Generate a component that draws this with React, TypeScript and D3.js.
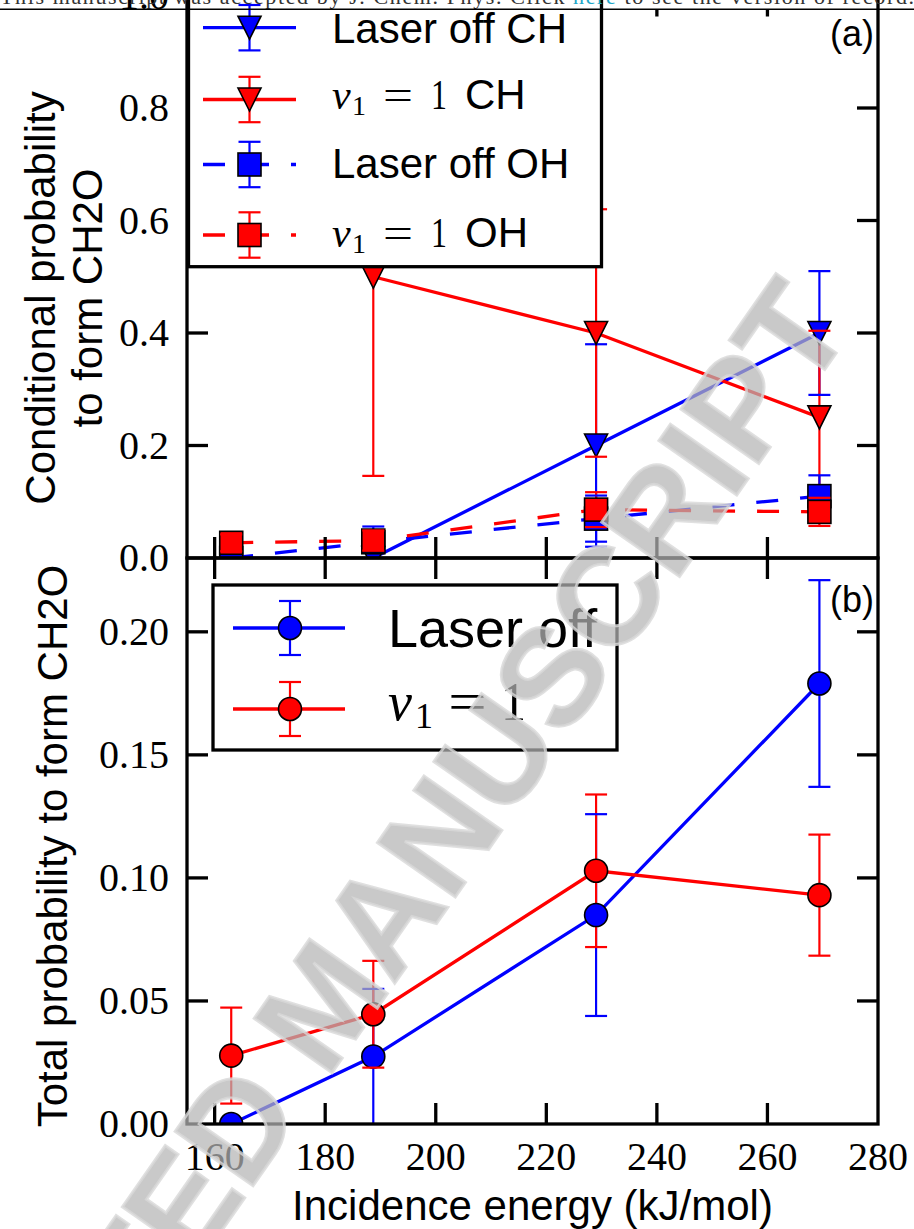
import React from "react";
import * as d3 from "d3";

// ---------- data ----------
const energies = [163, 188.7, 229, 269.4];

// panel (a): conditional probability to form CH2O
const laserOffCH: (number | null)[] = [null, 0.0, 0.2, 0.4];
const laserOffCHErr: (number | null)[] = [null, 0.0, 0.18, 0.11];
const nu1CH: (number | null)[] = [null, 0.5, 0.4, 0.25];
const nu1CHErr: (number | null)[] = [null, 0.354, 0.22, 0.154];
const laserOffOH: (number | null)[] = [0.0, 0.028, 0.07, 0.11];
const laserOffOHErr: (number | null)[] = [0.0, 0.028, 0.041, 0.037];
const nu1OH: (number | null)[] = [0.027, 0.031, 0.086, 0.082];
const nu1OHErr: (number | null)[] = [0.015, 0.018, 0.031, 0.025];

// panel (b): total probability to form CH2O
const laserOffTotal = [0.0, 0.0274, 0.0849, 0.179];
const laserOffTotalErr = [0.0, 0.0275, 0.041, 0.042];
const nu1Total = [0.0278, 0.0446, 0.1029, 0.093];
const nu1TotalErr = [0.0195, 0.0217, 0.031, 0.0246];

const xTicks = [160, 180, 200, 220, 240, 260, 280];
const yTicksA = [0, 0.2, 0.4, 0.6, 0.8, 1.0];
const yTicksB = [0, 0.05, 0.1, 0.15, 0.2];

const BLUE = "#0000ff";
const RED = "#ff0000";
const SANS = "'Liberation Sans', Arial, sans-serif";
const SERIF = "'Liberation Serif', 'Times New Roman', serif";

// ---------- layout ----------
const L = 187, R = 878;
const A_TOP = -4.5, A_BOT = 558, B_BOT = 1124;

const x = d3.scaleLinear().domain([155, 280]).range([L, R]);
const yA = d3.scaleLinear().domain([0, 1]).range([A_BOT, A_TOP]);
const yB = d3.scaleLinear().domain([0, 0.23]).range([B_BOT, A_BOT]);

type Series = {
  vals: (number | null)[];
  errs: (number | null)[];
  color: string;
  marker: "tri" | "sq" | "circ";
  dashed: boolean;
};

const MS = 23;

function Marker({ kind, cx, cy, color }: { kind: string; cx: number; cy: number; color: string }) {
  const h = MS / 2;
  if (kind === "tri")
    return <path d={`M${cx},${cy + h} L${cx - h},${cy - h} L${cx + h},${cy - h} Z`} fill={color} stroke="#000" strokeWidth={1.6} strokeLinejoin="miter" />;
  if (kind === "sq")
    return <rect x={cx - h} y={cy - h} width={MS} height={MS} fill={color} stroke="#000" strokeWidth={1.6} />;
  return <circle cx={cx} cy={cy} r={h} fill={color} stroke="#000" strokeWidth={1.6} />;
}

function ErrBars({ s, y }: { s: Series; y: d3.ScaleLinear<number, number> }) {
  return (
    <g>
      {s.vals.map((v, i) => {
        const e = s.errs[i];
        if (v == null || e == null || e === 0) return null;
        const cx = x(energies[i]);
        return <line key={i} x1={cx} x2={cx} y1={y(v - e)} y2={y(v + e)} stroke={s.color} strokeWidth={2.2} />;
      })}
    </g>
  );
}

function SeriesBody({ s, y }: { s: Series; y: d3.ScaleLinear<number, number> }) {
  const pts = s.vals.map((v, i) => ({ v, e: energies[i] })).filter((p) => p.v != null) as { v: number; e: number }[];
  const line = d3.line<{ v: number; e: number }>().x((p) => x(p.e)).y((p) => y(p.v));
  return (
    <g>
      <path d={line(pts) || ""} fill="none" stroke={s.color} strokeWidth={3.3} strokeDasharray={s.dashed ? "22,22" : undefined} />
      {pts.map((p, i) => (
        <Marker key={i} kind={s.marker} cx={x(p.e)} cy={y(p.v)} color={s.color} />
      ))}
      {s.vals.map((v, i) => {
        const e = s.errs[i];
        if (v == null || e == null || e === 0) return null;
        const cx = x(energies[i]);
        return (
          <g key={"c" + i}>
            <line x1={cx - 11} x2={cx + 11} y1={y(v - e)} y2={y(v - e)} stroke={s.color} strokeWidth={2.2} />
            <line x1={cx - 11} x2={cx + 11} y1={y(v + e)} y2={y(v + e)} stroke={s.color} strokeWidth={2.2} />
          </g>
        );
      })}
    </g>
  );
}

function Frame({ top, bot, yTicks, y, topTickStart }: { top: number; bot: number; yTicks: number[]; y: d3.ScaleLinear<number, number>; topTickStart: number }) {
  const TL = 21;
  const inner = xTicks.filter((t) => t < 280);
  const yin = yTicks.filter((t) => y(t) > top + 1 && y(t) < bot - 1);
  return (
    <g stroke="#000" strokeWidth={3.3} fill="none">
      <rect x={L} y={top} width={R - L} height={bot - top} />
      {inner.map((t) => (
        <g key={t}>
          <line x1={x(t)} x2={x(t)} y1={bot} y2={bot - TL} />
          <line x1={x(t)} x2={x(t)} y1={topTickStart} y2={top + TL} />
        </g>
      ))}
      {yin.map((t) => (
        <g key={t}>
          <line x1={L} x2={L + TL} y1={y(t)} y2={y(t)} />
          <line x1={R} x2={R - TL} y1={y(t)} y2={y(t)} />
        </g>
      ))}
    </g>
  );
}

function NuLabel({ x0, base, fs, sub, eqX, eqW, oneX, oneW, tail, tailX }: any) {
  return (
    <g fill="#000">
      <text x={x0} y={base} fontFamily={SERIF} fontStyle="italic" fontSize={fs}>ν</text>
      <text x={sub.x} y={base + sub.dy} fontFamily={SERIF} fontSize={sub.fs}>1</text>
      <text x={eqX} y={base} fontFamily={SERIF} fontSize={fs} textLength={eqW} lengthAdjust="spacingAndGlyphs">=</text>
      <text x={oneX} y={base} fontFamily={SERIF} fontSize={fs} textLength={oneW} lengthAdjust="spacingAndGlyphs">1</text>
      {tail ? <text x={tailX} y={base} fontFamily={SANS} fontSize={fs}>{tail}</text> : null}
    </g>
  );
}

function LegendHandle({ cx, cy, x1, x2, errH, color, marker, dashed }: any) {
  return (
    <g>
      <line x1={x1} x2={x2} y1={cy} y2={cy} stroke={color} strokeWidth={3.3} strokeDasharray={dashed ? "22,22" : undefined} />
      <line x1={cx} x2={cx} y1={cy - errH} y2={cy + errH} stroke={color} strokeWidth={2.2} />
      <line x1={cx - 11} x2={cx + 11} y1={cy - errH} y2={cy - errH} stroke={color} strokeWidth={2.2} />
      <line x1={cx - 11} x2={cx + 11} y1={cy + errH} y2={cy + errH} stroke={color} strokeWidth={2.2} />
      <Marker kind={marker} cx={cx} cy={cy} color={color} />
    </g>
  );
}

export default function App() {
  const seriesA: Series[] = [
    { vals: laserOffCH, errs: laserOffCHErr, color: BLUE, marker: "tri", dashed: false },
    { vals: nu1CH, errs: nu1CHErr, color: RED, marker: "tri", dashed: false },
    { vals: laserOffOH, errs: laserOffOHErr, color: BLUE, marker: "sq", dashed: true },
    { vals: nu1OH, errs: nu1OHErr, color: RED, marker: "sq", dashed: true },
  ];
  const seriesB: Series[] = [
    { vals: laserOffTotal, errs: laserOffTotalErr, color: BLUE, marker: "circ", dashed: false },
    { vals: nu1Total, errs: nu1TotalErr, color: RED, marker: "circ", dashed: false },
  ];

  const legA = [
    { color: BLUE, marker: "tri", dashed: false, cy: 27.7, base: 43.3, text: "Laser off CH" },
    { color: RED, marker: "tri", dashed: false, cy: 99.5, base: 109, nu: "CH" },
    { color: BLUE, marker: "sq", dashed: true, cy: 164.5, base: 178, text: "Laser off OH" },
    { color: RED, marker: "sq", dashed: true, cy: 235, base: 247, nu: "OH" },
  ];

  return (
    <svg width={914} height={1229} style={{ position: "absolute", left: 0, top: 0, background: "#fff" }}>
      <defs>
        <clipPath id="clipA"><rect x={L} y={A_TOP} width={R - L} height={A_BOT - A_TOP} /></clipPath>
        <clipPath id="clipB"><rect x={L} y={A_BOT} width={R - L} height={B_BOT - A_BOT} /></clipPath>
      </defs>
      <rect x={0} y={0} width={914} height={1229} fill="#fff" />

      {/* panel (a) data */}
      <g clipPath="url(#clipA)">
        {seriesA.map((s, i) => <ErrBars key={i} s={s} y={yA} />)}
        {seriesA.map((s, i) => <SeriesBody key={i} s={s} y={yA} />)}
      </g>
      {/* panel (b) data */}
      <g clipPath="url(#clipB)">
        {seriesB.map((s, i) => <ErrBars key={i} s={s} y={yB} />)}
        {seriesB.map((s, i) => <SeriesBody key={i} s={s} y={yB} />)}
      </g>

      <Frame top={A_TOP} bot={A_BOT} yTicks={yTicksA} y={yA} topTickStart={9} />
      <Frame top={A_BOT} bot={B_BOT} yTicks={yTicksB} y={yB} topTickStart={A_BOT} />

      {/* y tick labels */}
      {yTicksA.map((t) => (
        <text key={"ya" + t} x={169} y={yA(t)} dy="0.33em" textAnchor="end" fontFamily={SERIF} fontSize={40}>{t.toFixed(1)}</text>
      ))}
      {yTicksB.map((t) => (
        <text key={"yb" + t} x={169} y={yB(t)} dy="0.33em" textAnchor="end" fontFamily={SERIF} fontSize={40}>{t.toFixed(2)}</text>
      ))}
      {/* x tick labels */}
      {xTicks.map((t) => (
        <text key={"x" + t} x={x(t)} y={1170} textAnchor="middle" fontFamily={SERIF} fontSize={40}>{t}</text>
      ))}

      {/* axis labels */}
      <text x={(L + R) / 2} y={1220} textAnchor="middle" fontFamily={SANS} fontSize={42}>Incidence energy (kJ/mol)</text>
      <text transform="translate(55,298) rotate(-90)" textAnchor="middle" fontFamily={SANS} fontSize={42}>Conditional probability</text>
      <text transform="translate(102,298) rotate(-90)" textAnchor="middle" fontFamily={SANS} fontSize={42}>to form CH2O</text>
      <text transform="translate(67,846) rotate(-90)" textAnchor="middle" fontFamily={SANS} fontSize={42}>Total probability to form CH2O</text>

      {/* panel labels */}
      <text x={874} y={46} textAnchor="end" fontFamily={SANS} fontSize={36}>(a)</text>
      <text x={874} y={612} textAnchor="end" fontFamily={SANS} fontSize={36}>(b)</text>

      {/* legend (a) */}
      <rect x={188.5} y={-20} width={413} height={286.7} fill="#fff" stroke="#000" strokeWidth={3.3} />
      {legA.map((r, i) => (
        <g key={"la" + i}>
          <LegendHandle cx={249.5} cy={r.cy} x1={203} x2={296} errH={22.7} color={r.color} marker={r.marker} dashed={r.dashed} />
          {r.text ? (
            <text x={332} y={r.base} fontFamily={SANS} fontSize={42}>{r.text}</text>
          ) : (
            <NuLabel x0={332} base={r.base} fs={42} sub={{ x: 352, dy: 6, fs: 28 }} eqX={383} eqW={30} oneX={431} oneW={16} tail={r.nu} tailX={465} />
          )}
        </g>
      ))}

      {/* legend (b) */}
      <rect x={213} y={585} width={404} height={165} fill="#fff" stroke="#000" strokeWidth={3.3} />
      <LegendHandle cx={290} cy={628} x1={233} x2={345} errH={27} color={BLUE} marker="circ" dashed={false} />
      <text x={388} y={647.3} fontFamily={SANS} fontSize={54}>Laser off</text>
      <LegendHandle cx={290} cy={709} x1={233} x2={345} errH={27} color={RED} marker="circ" dashed={false} />
      <NuLabel x0={388} base={720} fs={54} sub={{ x: 415, dy: 8, fs: 36 }} eqX={448} eqW={39} oneX={501} oneW={25} tail={null} tailX={0} />

      {/* header of the page */}
      <text x={0} y={4} fontFamily={SERIF} fontSize={22} fill="#333" textLength={914} lengthAdjust="spacing">
        This manuscript was accepted by J. Chem. Phys. Click <tspan fill="#22a7c9">here</tspan> to see the version of record.
      </text>
      <line x1={0} x2={914} y1={9.3} y2={9.3} stroke="#000" strokeWidth={1.6} />

      {/* watermark */}
      <text transform="translate(362,1030) rotate(-55)" textAnchor="middle" fontFamily={SANS} fontWeight="bold" fontSize={138}
        fill="#b4b4b4" fillOpacity={0.72} stroke="#d8d8d8" strokeWidth={3} strokeOpacity={0.8}>
        ACCEPTED MANUSCRIPT
      </text>
    </svg>
  );
}
